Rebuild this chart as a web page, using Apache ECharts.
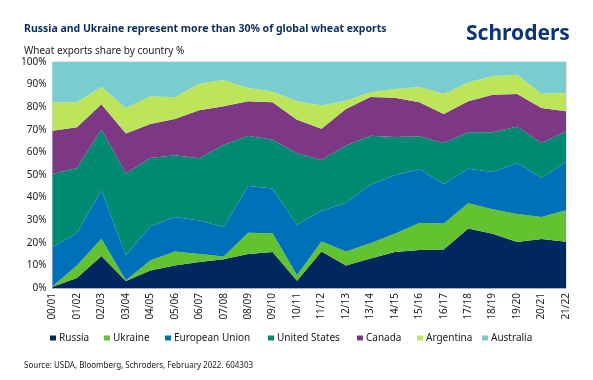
<!DOCTYPE html>
<html>
<head>
<meta charset="utf-8">
<script src="https://cdn.jsdelivr.net/npm/echarts@6/dist/echarts.min.js"></script>
<style>
html,body{margin:0;padding:0;background:#fff;}
#chart{width:593px;height:380px;}
</style>
</head>
<body>
<div id="chart"></div>
<script>
const categories = ['00/01','01/02','02/03','03/04','04/05','05/06','06/07','07/08','08/09','09/10','10/11','11/12','12/13','13/14','14/15','15/16','16/17','17/18','18/19','19/20','20/21','21/22'];
const russia    = [0.5, 4.4, 14.2, 3.1, 7.7, 10.0, 11.5, 12.7, 15.0, 15.9, 3.2, 16.2, 10.0, 13.0, 15.9, 16.8, 17.0, 26.3, 24.0, 20.4, 21.7, 20.5];
const ukraine   = [0.3, 5.6, 7.6, 0.3, 4.5, 6.2, 3.5, 1.2, 9.5, 8.3, 2.4, 4.4, 6.2, 6.8, 8.1, 12.0, 11.5, 11.2, 10.8, 12.3, 9.7, 13.9];
const eu        = [17.3, 14.3, 21.3, 11.1, 15.1, 15.2, 14.9, 13.1, 20.6, 19.8, 22.4, 13.6, 21.4, 25.9, 25.9, 23.9, 17.5, 15.3, 16.5, 22.6, 17.3, 21.4];
const us        = [32.3, 28.8, 27.0, 36.2, 30.2, 27.3, 27.5, 36.4, 22.3, 21.6, 31.6, 22.4, 25.4, 21.7, 16.9, 14.4, 18.2, 16.1, 17.6, 16.2, 15.5, 13.5];
const canada    = [19.2, 18.0, 11.2, 17.7, 15.1, 16.1, 21.2, 17.0, 15.2, 16.6, 14.9, 13.9, 16.2, 17.1, 17.4, 15.1, 12.8, 13.7, 16.6, 14.3, 15.4, 8.9];
const argentina = [12.6, 11.1, 7.8, 11.2, 12.2, 9.6, 11.8, 11.6, 5.9, 4.8, 8.1, 10.2, 3.7, 2.1, 3.9, 6.7, 8.8, 8.3, 8.3, 8.6, 6.4, 8.1];
const australia = [17.8, 17.8, 10.9, 20.4, 15.2, 15.6, 9.6, 8.0, 11.5, 13.0, 17.4, 19.3, 17.1, 13.4, 11.9, 11.1, 14.2, 9.1, 6.2, 5.6, 14.0, 13.7];
const yTicks = [0,10,20,30,40,50,60,70,80,90,100];

const seriesNames = ['Russia','Ukraine','European Union','United States','Canada','Argentina','Australia'];
const seriesData = [russia, ukraine, eu, us, canada, argentina, australia];
const colors = ['#00285e','#63c22f','#0071b9','#008a72','#7c3884','#bce559','#79cdd1'];
const legendLeft = [50, 104, 165, 268, 357, 417, 482];

const FONT = 'Noto Sans';
const chart = echarts.init(document.getElementById('chart'), null, {renderer:'canvas'});
const option = {
  animation: false,
  color: colors,
  textStyle: {fontFamily: FONT},
  title: [
    {text: 'Russia and Ukraine represent more than 30% of global wheat exports', left: 19, top: 19,
     textStyle: {fontFamily: FONT, fontSize: 10.5, fontWeight: 'bold', color: '#0b2d5b'}},
    {text: 'Wheat exports share by country %', left: 19, top: 41,
     textStyle: {fontFamily: FONT, fontSize: 10, fontWeight: 'normal', color: '#1a1a1a'}},
    {text: 'Schroders', left: 461, top: 19,
     textStyle: {fontFamily: FONT, fontSize: 21, fontWeight: 'bold', color: '#0d3475'}},
    {text: 'Source: USDA, Bloomberg, Schroders, February 2022. 604303', left: 19, top: 357,
     textStyle: {fontFamily: FONT, fontSize: 8, fontWeight: 'normal', color: '#1a1a1a'}}
  ],
  legend: seriesNames.map((n, i) => ({
    data: [n], left: legendLeft[i], top: 333, icon: 'rect', itemWidth: 6, itemHeight: 5,
    itemGap: 0, padding: 0, textStyle: {fontFamily: FONT, fontSize: 10, color: '#1a1a1a', padding: [0,0,0,-2]}
  })),
  grid: {left: 52.5, right: 27, top: 62, bottom: 92, show: true, borderColor: '#c8d0d8', borderWidth: 1},
  xAxis: {
    type: 'category', data: categories, boundaryGap: false,
    axisLine: {show: true, lineStyle: {color: '#a9b4c0'}},
    axisTick: {show: false},
    axisLabel: {rotate: 90, fontSize: 10, color: '#1a1a1a', margin: 5, interval: 0, fontFamily: FONT}
  },
  yAxis: {
    type: 'value', min: yTicks[0], max: yTicks[yTicks.length-1], interval: 10,
    axisLine: {show: false}, axisTick: {show: false}, splitLine: {show: false},
    axisLabel: {formatter: '{value}%', fontSize: 10, color: '#1a1a1a', margin: 6, fontFamily: FONT}
  },
  series: seriesNames.map((n, i) => ({
    name: n, type: 'line', stack: 'total', data: seriesData[i],
    symbol: 'none', lineStyle: {width: 0}, areaStyle: {color: colors[i], opacity: 1},
    itemStyle: {color: colors[i]}, z: 2
  }))
};
chart.setOption(option);
</script>
</body>
</html>
